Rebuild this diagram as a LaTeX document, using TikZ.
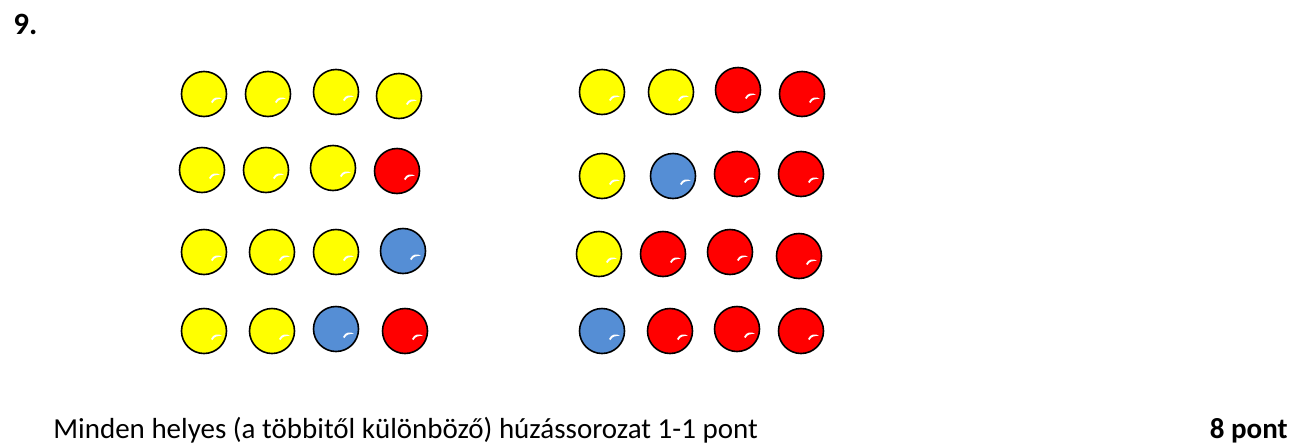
\documentclass[tikz,border=0pt]{standalone}
\usepackage{fontspec}
\setmainfont{Carlito}
\usepackage{tikz}
\usetikzlibrary{positioning}

\definecolor{ballyellow}{RGB}{255,255,0}
\definecolor{ballred}{RGB}{255,0,0}
\definecolor{ballblue}{RGB}{85,142,213}

\begin{document}
\begin{tikzpicture}[x=0.5pt, y=-0.5pt]
    \tikzset{ball/.style={circle, draw, line width=0.8pt, minimum size=22.5pt, inner sep=0pt,
        path picture={\begin{scope}[shift={(path picture bounding box.center)}]
            \fill[white] (7,8) .. controls (9,3) and (15,2) .. (18,5) .. controls (14,4.5) and (10,5.5) .. (8.5,9) -- cycle;
          \end{scope}}},
      label/.style={inner sep=0pt, font=\fontsize{14.5}{17}\selectfont}}
    \useasboundingbox (0,0) rectangle (1295,445);

    % Heading
    \node[label, anchor=base west, font=\fontsize{15.5}{18}\selectfont\bfseries] (number) at (13,34) {9.};

    % Left set of draws
    \foreach \x/\y/\c [count=\i] in {204/94/ballyellow, 268/94/ballyellow, 336/92/ballyellow, 399/96/ballyellow,
        202/170/ballyellow, 266/170/ballyellow, 333/168/ballyellow, 397/171/ballred,
        204/252/ballyellow, 272/252/ballyellow, 336/252/ballyellow, 403/251/ballblue,
        204/331/ballyellow, 272/331/ballyellow, 336/329/ballblue, 405/331/ballred}
      \node[ball, fill=\c] (left\i) at (\x,\y) {};

    % Right set of draws
    \foreach \x/\y/\c [count=\i] in {602/92/ballyellow, 671/92/ballyellow, 738/90/ballred, 802/94/ballred,
        602/176/ballyellow, 673/176/ballblue, 737/174/ballred, 801/174/ballred,
        599/254/ballyellow, 663/254/ballred, 730/252/ballred, 799/256/ballred,
        602/331/ballblue, 670/331/ballred, 737/329/ballred, 801/331/ballred}
      \node[ball, fill=\c] (right\i) at (\x,\y) {};

    % Scoring line
    \node[label, anchor=base west] (rule) at (53,438) {Minden helyes (a többitől különböző) húzássorozat 1-1 pont};
    \node[label, anchor=base east, font=\fontsize{14.5}{17}\selectfont\bfseries] (points) at (1288,438) {8 pont};
  \end{tikzpicture}
\end{document}
